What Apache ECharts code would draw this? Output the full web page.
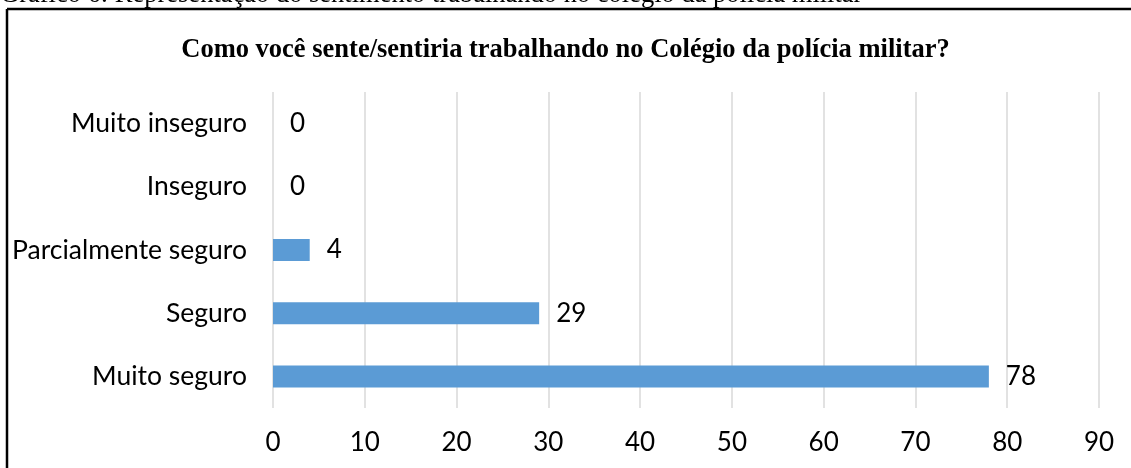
<!DOCTYPE html>
<html><head><meta charset="utf-8">
<script src="https://cdn.jsdelivr.net/npm/echarts@6/dist/echarts.min.js"></script>
<style>html,body{margin:0;padding:0;background:#fff}#c{width:1131px;height:468px}</style>
</head><body><div id="c"></div>
<script>
const categories = ["Muito seguro", "Seguro", "Parcialmente seguro", "Inseguro", "Muito inseguro"];
const values = [78, 29, 4, 0, 0];
const xTicks = [0, 10, 20, 30, 40, 50, 60, 70, 80, 90];
const chartTitle = "Como você sente/sentiria trabalhando no Colégio da polícia militar?";
const caption = "Gráfico 6: Representação do sentimento trabalhando no colégio da polícia militar";

const chart = echarts.init(document.getElementById('c'));
chart.setOption({
  animation: false,
  title: {
    text: chartTitle, left: 'center', top: 32,
    textStyle: { fontFamily: 'Liberation Serif', fontWeight: 'bold', fontSize: 26.5, color: '#000' }
  },
  grid: { left: 273, right: 32, top: 92, bottom: 60 },
  xAxis: {
    type: 'value', min: xTicks[0], max: xTicks[xTicks.length - 1], interval: 10,
    axisLine: { show: false }, axisTick: { show: false },
    splitLine: { lineStyle: { color: '#d9d9d9', width: 1.5 } },
    axisLabel: { fontFamily: 'Lato', fontSize: 26, color: '#000', margin: 22 }
  },
  yAxis: {
    type: 'category', data: categories,
    axisLine: { show: false }, axisTick: { show: false },
    axisLabel: { fontFamily: 'Lato', fontSize: 26.5, color: '#000', margin: 26 }
  },
  series: [{
    type: 'bar', data: values, barWidth: 22,
    itemStyle: { color: '#5b9bd5' },
    label: { show: true, position: 'right', distance: 17, fontFamily: 'Lato', fontSize: 26, color: '#000' }
  }],
  graphic: [
    { type: 'text', left: 0, top: -18, style: { text: caption, font: '26.5px "Liberation Serif"', fill: '#000' } },
    { type: 'rect', shape: { x: 0, y: 9, width: 1131, height: 459 }, style: { fill: '#fff' } },
    { type: 'line', shape: { x1: 7, y1: 9, x2: 1131, y2: 9 }, style: { stroke: '#000', lineWidth: 2.5 } },
    { type: 'line', shape: { x1: 7, y1: 9, x2: 7, y2: 468 }, style: { stroke: '#000', lineWidth: 2.5 } }
  ]
});
</script></body></html>
